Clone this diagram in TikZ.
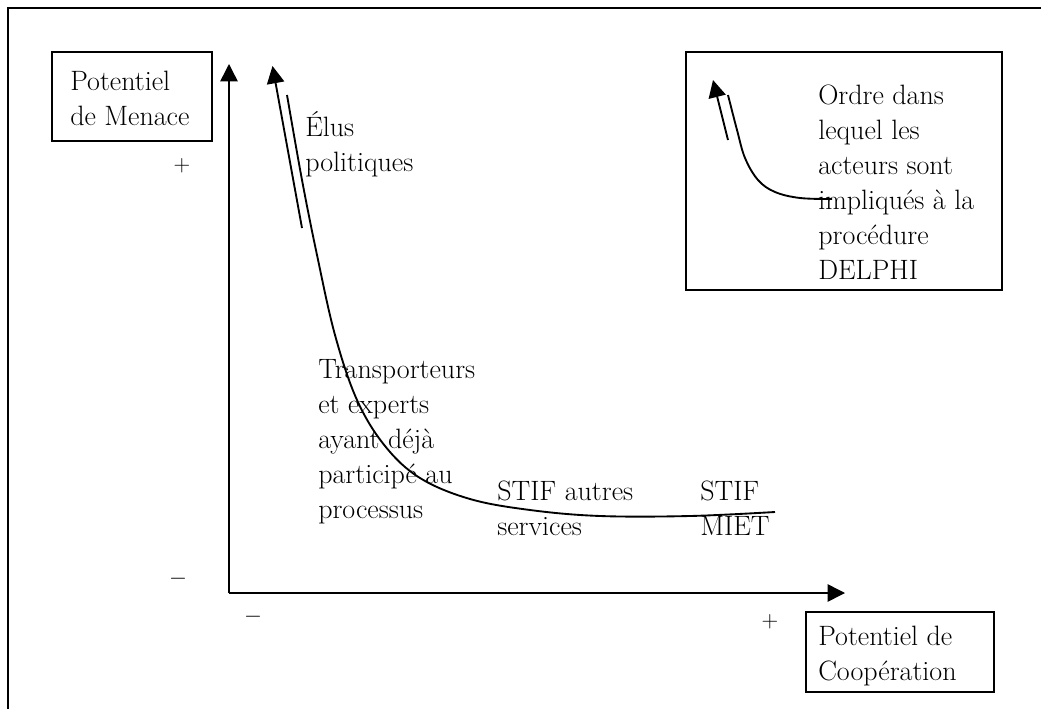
\documentclass[tikz,border=0pt]{standalone}
\usetikzlibrary{arrows.meta}
\tikzset{
  frameline/.style={line width=1.1pt},
  axis/.style={line width=1.1pt,-{Triangle[length=13pt,width=13pt]}},
  curveline/.style={line width=1.4pt},
  lbl/.style={anchor=base west,inner sep=0pt,font=\fontsize{21}{26.25}\selectfont},
  sign/.style={inner sep=0pt,font=\fontsize{16}{20}\selectfont}
}
\newcommand{\blk}[1]{\begin{tabular}[t]{@{}l@{}}#1\end{tabular}}
\begin{document}
\begin{tikzpicture}[x=0.75pt,y=-0.75pt]
\useasboundingbox (0,0) rectangle (1041,709);
% outer frame (left and top only visible)
\draw[frameline] (8,709) -- (8,8) -- (1041,8);
% boxes
\draw[frameline] (52,52) rectangle (212,141);
\draw[frameline] (686,52) rectangle (1002,290);
\draw[frameline] (806,612) rectangle (994,692);
% axes
\coordinate (O) at (229,593);
\coordinate (Ytip) at (229,64);
\coordinate (Xtip) at (845,593);
\draw[axis] (O) -- (Ytip);
\draw[axis] (O) -- (Xtip);
% main curve with separate arrow shaft
\coordinate (Ashaft) at (302,228);
\coordinate (Atip) at (272.5,66);
\draw[axis,line width=1.4pt] (Ashaft) -- (Atip);
\draw[curveline] plot[smooth,tension=0.6] coordinates
 {(287,95) (302,180) (317,255) (335,335) (357,400) (385,446) (420,478) (470,499) (530,510) (600,516) (690,516) (775,512)};
% legend curve with separate arrow shaft
\coordinate (Lshaft) at (728,140);
\coordinate (Ltip) at (713,80);
\draw[axis,line width=1.4pt] (Lshaft) -- (Ltip);
\draw[curveline] plot[smooth,tension=0.6] coordinates
 {(728,95) (737,130) (745,158) (758,180) (775,192) (800,198) (832,199)};
% texts
\node[lbl] (menace) at (70,91) {\blk{Potentiel\\de Menace}};
\node[lbl] (elus) at (305,137) {\blk{Élus\\politiques}};
\node[lbl] (transp) at (318,378) {\blk{Transporteurs\\et experts\\ayant déjà\\participé au\\processus}};
\node[lbl] (stifa) at (497,500) {\blk{STIF autres\\services}};
\node[lbl] (stifm) at (700,500) {\blk{STIF\\MIET}};
\node[lbl] (legend) at (818,105) {\blk{Ordre dans\\lequel les\\acteurs sont\\impliqués à la\\procédure\\DELPHI}};
\node[lbl] (coop) at (818,645) {\blk{Potentiel de\\Coopération}};
\node[sign] (yplus) at (182,166) {$+$};
\node[sign] (yminus) at (178,579) {$-$};
\node[sign] (xminus) at (253,617) {$-$};
\node[sign] (xplus) at (770,622) {$+$};
\end{tikzpicture}
\end{document}
